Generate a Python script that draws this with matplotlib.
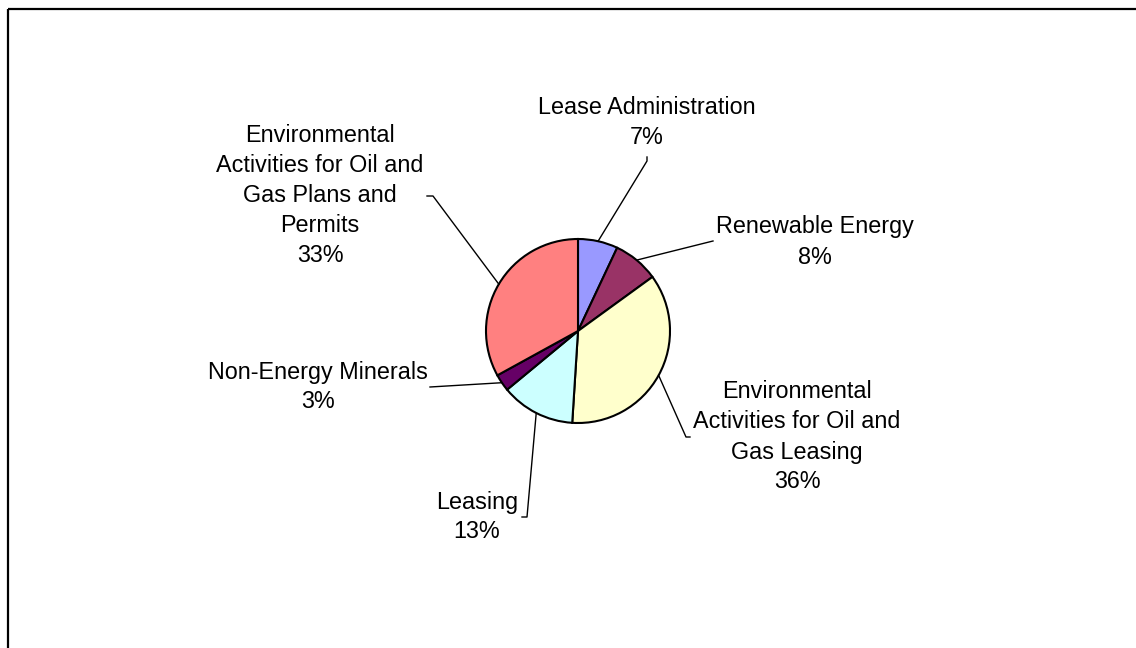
import numpy as np
import matplotlib
matplotlib.use("Agg")
import matplotlib.pyplot as plt
from matplotlib.patches import Rectangle

plt.rcParams["font.family"] = ["Liberation Sans", "DejaVu Sans"]

# Budget shares by activity (percent), clockwise from 12 o'clock
categories = [
    "Lease Administration",
    "Renewable Energy",
    "Environmental\nActivities for Oil and\nGas Leasing",
    "Leasing",
    "Non-Energy Minerals",
    "Environmental\nActivities for Oil and\nGas Plans and\nPermits",
]
shares = [7, 8, 36, 13, 3, 33]
colors = ["#9999FF", "#993366", "#FFFFCC", "#CCFFFF", "#660066", "#FF8080"]

# Label placement (pixel space, y downward): text centre of first line,
# and leader-line path from the label towards the slice
label_pos = [(647, 107), (815, 227), (797, 392), (477, 502), (318, 372), (320, 135)]
leader_elbows = [
    [(647, 157), (647, 161)],
    [(713, 241)],
    [(690, 437), (686, 437)],
    [(522, 517), (527, 517)],
    [(430, 387)],
    [(427, 196), (433, 196)],
]

W, H = 1136, 648
fig = plt.figure(figsize=(W / 100, H / 100), dpi=100)
ax = fig.add_axes([0, 0, 1, 1])

# Chart-area border (extends past right and bottom edges)
ax.add_patch(Rectangle((8, 9), W + 20, H + 20, fill=False, edgecolor="black",
                       linewidth=1.6, zorder=1))

center = (578, 331)
radius = 92
# y axis runs downward, so counterclock=True draws clockwise on screen
ax.set_ylim(H, 0)
wedges, _ = ax.pie(shares, colors=colors, startangle=-90, counterclock=True,
                   center=center, radius=radius, frame=True,
                   wedgeprops=dict(edgecolor="black", linewidth=1.5))
ax.set_xlim(0, W)
ax.set_ylim(H, 0)
ax.set_aspect("equal")
ax.axis("off")

fs = 16.8
line_gap = 30
for w, name, pct, (lx, ly), elbow in zip(wedges, categories, shares, label_pos, leader_elbows):
    mid = np.deg2rad((w.theta1 + w.theta2) / 2)
    sx = center[0] + radius * np.cos(mid)
    sy = center[1] + radius * np.sin(mid)
    pts = elbow + [(sx, sy)]
    xs, ys = zip(*pts)
    ax.plot(xs, ys, color="black", linewidth=1.0, zorder=3)
    lines = name.split("\n") + [f"{pct}%"]
    for i, t in enumerate(lines):
        ax.text(lx, ly + i * line_gap, t, ha="center", va="center",
                fontsize=fs, color="black")

fig.savefig("out.png", dpi=100, facecolor="white")
